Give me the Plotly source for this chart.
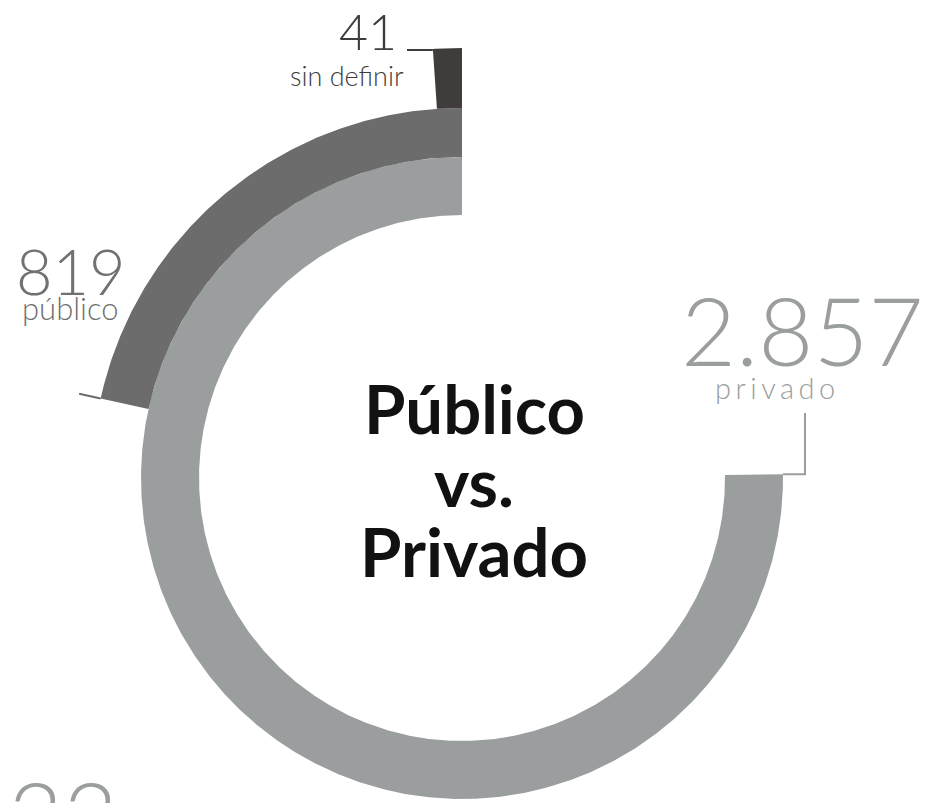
import numpy as np
import plotly.graph_objects as go

# ---------------- data ----------------
CATEGORIES = ["privado", "público", "sin definir"]
VALUES = [2857, 819, 41]
VALUE_LABELS = ["2.857", "819", "41"]
EXTRA_LABEL = "33"
FULL_TURN_VALUE = 3800          # value that would fill a complete turn
TITLE_LINES = ["Público", "vs.", "Privado"]

# ---------------- style / layout ----------------
W, H = 927, 803
CX, CY = 462, 478
RADII = [(263, 321), (321, 370), (370, 430)]
COLORS = ["#9b9e9e", "#6b6c6b", "#403c3b"]
TEXT_COLORS = ["#9b9e9e", "#707171", "#403c3b"]
NUM_FONT = "Lato"


def pt(r, deg):
    t = np.radians(deg)
    return CX - r * np.sin(t), CY - r * np.cos(t)


fig = go.Figure()

ends = []
for cat, val, col, (r0, r1) in zip(CATEGORIES, VALUES, COLORS, RADII):
    ang = val / FULL_TURN_VALUE * 360.0
    th = np.linspace(0, ang, max(int(ang * 3), 6))
    xo, yo = pt(r1, th)
    xi, yi = pt(r0, th[::-1])
    xs = np.concatenate([xo, xi, xo[:1]])
    ys = np.concatenate([yo, yi, yo[:1]])
    fig.add_trace(go.Scatter(x=xs, y=ys, mode="lines", fill="toself",
                             fillcolor=col, line=dict(width=0, color=col),
                             hoverinfo="skip", showlegend=False, name=cat))
    ends.append((ang, r0, r1))

# leader lines, derived from the arc ends
# privado: right then up to its label
a, r0, r1 = ends[0]
px, py = pt(r1, a)
fig.add_trace(go.Scatter(x=[px, px + 22, px + 22], y=[py, py, 413], mode="lines",
                         line=dict(color=COLORS[0], width=2), hoverinfo="skip",
                         showlegend=False))
# público: radial extension
a, r0, r1 = ends[1]
qx, qy = pt(r1, a)
ex, ey = pt(r1 + 22, a)
fig.add_trace(go.Scatter(x=[qx, ex], y=[qy, ey], mode="lines",
                         line=dict(color=COLORS[1], width=2), hoverinfo="skip",
                         showlegend=False))
# sin definir: horizontal to the left
a, r0, r1 = ends[2]
sx, sy = pt(r1, a)
fig.add_trace(go.Scatter(x=[sx, 407], y=[sy + 1, sy + 1], mode="lines",
                         line=dict(color=COLORS[2], width=2), hoverinfo="skip",
                         showlegend=False))

ann = []
# value labels
ann.append(dict(x=802, y=329, text=VALUE_LABELS[0], xanchor="center", yanchor="middle",
                font=dict(family=NUM_FONT, size=95, color=TEXT_COLORS[0], weight=300)))
ann.append(dict(x=777, y=387,
                text='<span style="letter-spacing:4.5px">' + CATEGORIES[0] + '</span>',
                xanchor="center", yanchor="middle",
                font=dict(family=NUM_FONT, size=29, color=TEXT_COLORS[0], weight=300)))
ann.append(dict(x=71, y=270, text=VALUE_LABELS[1], xanchor="center", yanchor="middle",
                font=dict(family=NUM_FONT, size=63, color=TEXT_COLORS[1], weight=300)))
ann.append(dict(x=70, y=308, text=CATEGORIES[1], xanchor="center", yanchor="middle",
                font=dict(family=NUM_FONT, size=31, color=TEXT_COLORS[1], weight=300)))
ann.append(dict(x=399, y=31, text=VALUE_LABELS[2], xanchor="right", yanchor="middle",
                font=dict(family=NUM_FONT, size=50, color=TEXT_COLORS[2], weight=300)))
ann.append(dict(x=406, y=75, text=CATEGORIES[2], xanchor="right", yanchor="middle",
                font=dict(family=NUM_FONT, size=27, color=TEXT_COLORS[2], weight=300)))
ann.append(dict(x=63, y=755, text=EXTRA_LABEL, xanchor="center", yanchor="top",
                font=dict(family=NUM_FONT, size=95, color=TEXT_COLORS[0], weight=300)))
# centre title
for line, yy in zip(TITLE_LINES, [408, 481, 551]):
    ann.append(dict(x=474, y=yy, text=line, xanchor="center", yanchor="middle",
                    font=dict(family="Lato", size=67, color="#111111", weight=700)))
for a_ in ann:
    a_.update(xref="x", yref="y", showarrow=False)

fig.update_layout(
    width=W, height=H, margin=dict(l=0, r=0, t=0, b=0),
    paper_bgcolor="white", plot_bgcolor="white",
    xaxis=dict(range=[0, W], visible=False, fixedrange=True),
    yaxis=dict(range=[H, 0], visible=False, fixedrange=True),
    annotations=ann, showlegend=False,
)

fig.write_html("out.html", config={"displayModeBar": False},
               post_script="document.body.style.margin='0';document.body.style.overflow='hidden';")
